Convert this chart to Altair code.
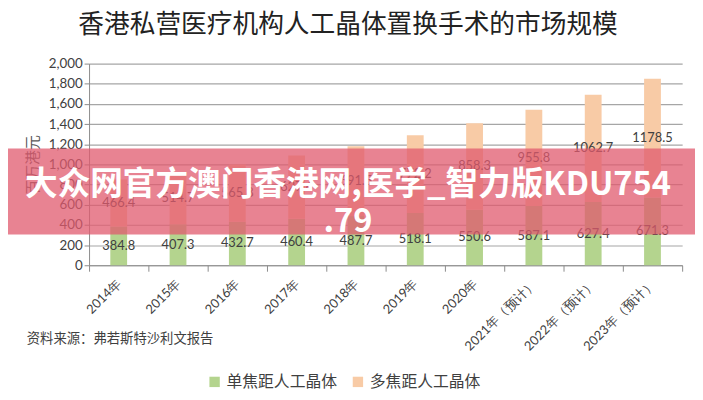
import altair as alt
import pandas as pd

years = ["2014年", "2015年", "2016年", "2017年", "2018年", "2019年", "2020年",
         "2021年（预计）", "2022年（预计）", "2023年（预计）"]
single = [384.8, 407.3, 432.7, 460.4, 487.7, 518.1, 550.6, 587.1, 627.4, 671.3]
multi = [466.4, 514.7, 565.8, 627.6, 691.5, 772.2, 858.3, 955.8, 1062.7, 1178.5]
series = ["单焦距人工晶体", "多焦距人工晶体"]
colors = ["#b4d48e", "#f8cba6"]
y_ticks = [0, 200, 400, 600, 800, 1000, 1200, 1400, 1600, 1800, 2000]

title_text = "香港私营医疗机构人工晶体置换手术的市场规模"
source_text = "资料来源：弗若斯特沙利文报告"
banner_text = ["大众网官方澳门香港网,医学_智力版KDU754", ".79"]

rows = []
for i, yr in enumerate(years):
    rows.append(dict(year=yr, series=series[0], lo=0, hi=single[i],
                     mid=single[i] / 2, label=f"{single[i]:.1f}"))
    rows.append(dict(year=yr, series=series[1], lo=single[i], hi=single[i] + multi[i],
                     mid=single[i] + multi[i] / 2, label=f"{multi[i]:.1f}"))
df = pd.DataFrame(rows)

CJK = "Noto Sans CJK SC"
NUM = "Lato"

x_scale = alt.Scale(domain=years, paddingInner=0, paddingOuter=0)
y_scale = alt.Scale(domain=[0, 2000], nice=False)

x_axis = alt.Axis(title=None, labelAngle=-45, labelAlign="right",
                  labelBaseline="middle", labelFontSize=13, labelFont=NUM,
                  labelColor="#404040", labelPadding=10, tickBand="extent",
                  tickSize=6, tickColor="#8c8c8c", domainColor="#8c8c8c",
                  grid=False, labelOverlap=False)
y_axis = alt.Axis(title="百万港元", values=y_ticks, format=",d",
                  labelOverlap=False,
                  labelFont=NUM, labelFontSize=13.5, labelColor="#404040",
                  titleFont=CJK, titleFontSize=15, titleFontWeight="normal",
                  titleColor="#595959", titlePadding=8,
                  tickSize=5, tickColor="#8c8c8c", domainColor="#8c8c8c",
                  gridColor="#a6a6a6", gridWidth=1.2)

base = alt.Chart(df)

bars = base.mark_bar(size=17).encode(
    x=alt.X("year:N", sort=years, scale=x_scale, axis=x_axis),
    y=alt.Y("lo:Q", scale=y_scale, axis=y_axis),
    y2="hi:Q",
    color=alt.Color("series:N", scale=alt.Scale(domain=series, range=colors),
                    legend=alt.Legend(title=None, orient="none", direction="horizontal",
                                      legendX=119, legendY=314, symbolType="square",
                                      symbolSize=110, symbolStrokeWidth=0,
                                      labelFont=CJK, labelFontSize=16,
                                      labelColor="#404040", columnPadding=12,
                                      labelOffset=4)),
)

labels = base.mark_text(font=NUM, fontSize=13, color="#404040").encode(
    x=alt.X("year:N", sort=years, scale=x_scale, axis=x_axis),
    y=alt.Y("mid:Q", scale=y_scale, axis=y_axis),
    text="label:N",
)

one = pd.DataFrame({"a": [0]})

title = alt.Chart(one).mark_text(font=CJK, fontSize=26, color="#222222",
                                 align="center", baseline="middle").encode(
    x=alt.value(262), y=alt.value(-39), text=alt.value(title_text))

source = alt.Chart(one).mark_text(font=CJK, fontSize=13.5, color="#404040",
                                  align="left", baseline="middle").encode(
    x=alt.value(-63), y=alt.value(279), text=alt.value(source_text))

banner = alt.Chart(one).mark_rect(color="#e05a6e", opacity=0.75).encode(
    x=alt.value(-90), x2=alt.value(613), y=alt.value(86), y2=alt.value(173))

banner_label = alt.Chart(one).mark_text(font=CJK, fontWeight="bold", fontSize=33,
                                        color="white", lineHeight=37, align="center",
                                        baseline="middle").encode(
    x=alt.value(262), y=alt.value(123), text=alt.value(banner_text))

chart = alt.layer(bars, labels, title, source, banner, banner_label).properties(
    width=600, height=204,
    autosize=alt.AutoSizeParams(type="none"),
    padding={"left": 82, "top": 54, "right": 13, "bottom": 130},
    background="white",
).configure_view(stroke=None)

chart.save("out.html", embed_options={"renderer": "svg", "actions": False})
